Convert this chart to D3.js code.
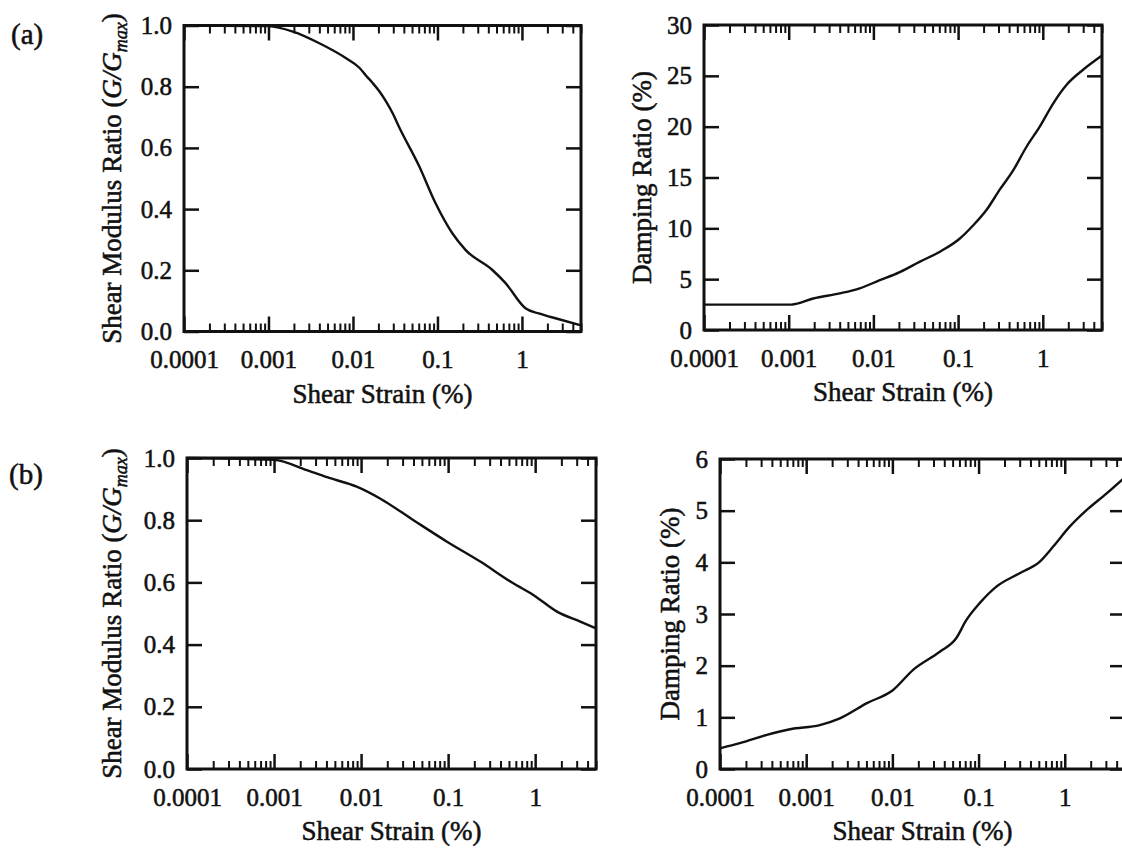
<!DOCTYPE html>
<html>
<head>
<meta charset="utf-8">
<script src="https://cdn.jsdelivr.net/npm/d3@7"></script>
<style>
  body { margin: 0; background: #fff; }
  svg text { font-family: "Liberation Serif", "Times New Roman", serif; fill: #111; stroke: #111; stroke-width: 0.55px; }
  .tick text { font-size: 25px; }
  .axis-title { font-size: 27px; }
  .panel-tag { font-size: 29px; }
</style>
</head>
<body>
<div id="chart"></div>
<script>
// (a) shear modulus ratio
const strainGa = [0.0001, 0.001, 0.00195, 0.004, 0.0083, 0.0119, 0.0143, 0.0171, 0.0205, 0.0246, 0.0295, 0.035, 0.061, 0.095, 0.15, 0.216, 0.447, 0.64, 1.1, 1.58, 2.75, 5];
const ratioGa  = [1.0, 0.998, 0.98, 0.942, 0.893, 0.862, 0.836, 0.812, 0.785, 0.752, 0.713, 0.669, 0.539, 0.419, 0.321, 0.266, 0.201, 0.158, 0.076, 0.059, 0.04, 0.02];
// (a) damping ratio
const strainDa = [0.0001, 0.00108, 0.00195, 0.004, 0.0069, 0.0119, 0.0205, 0.035, 0.061, 0.105, 0.151, 0.216, 0.31, 0.447, 0.64, 0.92, 1.33, 1.9, 2.99, 5];
const dampDa   = [2.5, 2.5, 3.1, 3.6, 4.1, 4.9, 5.7, 6.7, 7.7, 9.0, 10.3, 11.8, 13.8, 15.7, 18.0, 20.0, 22.3, 24.1, 25.6, 27.0];
// (b) shear modulus ratio
const strainGb = [0.0001, 0.001, 0.00238, 0.0044, 0.0089, 0.0165, 0.04, 0.097, 0.234, 0.56, 0.96, 1.78, 3.3, 5];
const ratioGb  = [1.0, 0.994, 0.961, 0.935, 0.908, 0.870, 0.80, 0.731, 0.667, 0.597, 0.559, 0.506, 0.474, 0.452];
// (b) damping ratio
const strainDb = [0.0001, 0.00017, 0.00035, 0.00065, 0.00144, 0.00246, 0.005, 0.0102, 0.0174, 0.0355, 0.055, 0.072, 0.103, 0.161, 0.30, 0.51, 0.73, 1.14, 1.79, 3.04, 5];
const dampDb   = [0.40, 0.50, 0.66, 0.77, 0.85, 0.98, 1.27, 1.53, 1.92, 2.27, 2.53, 2.88, 3.21, 3.53, 3.79, 4.01, 4.30, 4.69, 5.01, 5.33, 5.65];

// axes
const xDomain = [0.0001, 5];
const xMajor = [0.0001, 0.001, 0.01, 0.1, 1];
const xMajorLabels = ["0.0001", "0.001", "0.01", "0.1", "1"];
const gTicks = [0, 0.2, 0.4, 0.6, 0.8, 1.0];
const dTicksA = [0, 5, 10, 15, 20, 25, 30];
const dTicksB = [0, 1, 2, 3, 4, 5, 6];
const xTitle = "Shear Strain (%)";
const dampTitle = "Damping Ratio (%)";

const width = 1122, height = 848;

const svg = d3.select("#chart").append("svg")
    .attr("width", width)
    .attr("height", height);

// minor ticks 2..9 in each decade up to 5
const xMinor = [];
for (let d = -4; d <= 0; d++) {
  for (let m = 2; m <= 9; m++) {
    const v = m * Math.pow(10, d);
    if (v <= 5 + 1e-9) xMinor.push(+v.toPrecision(3));
  }
}

function drawPanel(cfg) {
  const x = d3.scaleLog().domain(xDomain).range([cfg.left, cfg.right]);
  const y = d3.scaleLinear().domain(cfg.yDomain).range([cfg.bottom, cfg.top]);
  const g = svg.append("g");

  // minor x ticks (bottom + top)
  g.append("g")
      .attr("transform", `translate(0,${cfg.bottom})`)
      .call(d3.axisBottom(x).tickValues(xMinor).tickSize(-8).tickFormat(""))
      .call(a => a.select(".domain").remove())
      .selectAll("line").attr("stroke-width", 2);
  g.append("g")
      .attr("transform", `translate(0,${cfg.top})`)
      .call(d3.axisTop(x).tickValues(xMinor).tickSize(-8).tickFormat(""))
      .call(a => a.select(".domain").remove())
      .selectAll("line").attr("stroke-width", 2);

  // major x ticks
  const xb = g.append("g")
      .attr("transform", `translate(0,${cfg.bottom})`)
      .call(d3.axisBottom(x).tickValues(xMajor).tickSize(-15).tickPadding(19)
        .tickFormat((d, i) => xMajorLabels[i]));
  xb.select(".domain").remove();
  xb.selectAll("line").attr("stroke-width", 2.5);
  const xt = g.append("g")
      .attr("transform", `translate(0,${cfg.top})`)
      .call(d3.axisTop(x).tickValues(xMajor).tickSize(-15).tickFormat(""));
  xt.select(".domain").remove();
  xt.selectAll("line").attr("stroke-width", 2.5);

  // y ticks
  const yl = g.append("g")
      .attr("transform", `translate(${cfg.left},0)`)
      .call(d3.axisLeft(y).tickValues(cfg.yTicks).tickSize(-15).tickPadding(12)
        .tickFormat(cfg.yFormat));
  yl.select(".domain").remove();
  yl.selectAll("line").attr("stroke-width", 2.5);
  const yr = g.append("g")
      .attr("transform", `translate(${cfg.right},0)`)
      .call(d3.axisRight(y).tickValues(cfg.yTicks).tickSize(-15).tickFormat(""));
  yr.select(".domain").remove();
  yr.selectAll("line").attr("stroke-width", 2.5);
  g.selectAll("g").attr("font-size", null).attr("font-family", null);
  g.selectAll(".tick line").attr("stroke", "#111");

  // frame
  g.append("rect")
      .attr("x", cfg.left).attr("y", cfg.top)
      .attr("width", cfg.right - cfg.left).attr("height", cfg.bottom - cfg.top)
      .attr("fill", "none").attr("stroke", "#111").attr("stroke-width", 3);

  // curve
  const pts = cfg.xs.map((v, i) => [v, cfg.ys[i]]);
  g.append("path")
      .datum(pts)
      .attr("fill", "none")
      .attr("stroke", "#111")
      .attr("stroke-width", 2.4)
      .attr("stroke-linejoin", "round")
      .attr("d", d3.line().x(d => x(d[0])).y(d => y(d[1])).curve(d3.curveMonotoneX));

  // x title
  g.append("text")
      .attr("class", "axis-title")
      .attr("x", (cfg.left + cfg.right) / 2)
      .attr("y", cfg.bottom + 71)
      .attr("text-anchor", "middle")
      .text(xTitle);

  // y title
  const yt = g.append("text")
      .attr("class", "axis-title")
      .attr("text-anchor", "middle")
      .attr("transform", `translate(${cfg.yTitleX},${(cfg.top + cfg.bottom) / 2}) rotate(-90)`);
  if (cfg.modulus) {
    yt.append("tspan").text("Shear Modulus Ratio (");
    yt.append("tspan").attr("font-style", "italic").text("G/G");
    yt.append("tspan").attr("font-style", "italic").attr("font-size", "18px").attr("dy", 6).text("max");
    yt.append("tspan").attr("dy", -6).text(")");
  } else {
    yt.text(dampTitle);
  }
}

const fmt1 = d3.format(".1f");
const fmt0 = d3.format("d");

drawPanel({left: 184, right: 581, top: 25.5, bottom: 331.5, yDomain: [0, 1], yTicks: gTicks,
  yFormat: fmt1, xs: strainGa, ys: ratioGa, yTitleX: 121, modulus: true});
drawPanel({left: 704, right: 1102, top: 25, bottom: 330, yDomain: [0, 30], yTicks: dTicksA,
  yFormat: fmt0, xs: strainDa, ys: dampDa, yTitleX: 651, modulus: false});
drawPanel({left: 187, right: 596, top: 458, bottom: 769, yDomain: [0, 1], yTicks: gTicks,
  yFormat: fmt1, xs: strainGb, ys: ratioGb, yTitleX: 121, modulus: true});
drawPanel({left: 720, right: 1125, top: 459, bottom: 769, yDomain: [0, 6], yTicks: dTicksB,
  yFormat: fmt0, xs: strainDb, ys: dampDb, yTitleX: 679, modulus: false});

// panel tags
svg.append("text").attr("class", "panel-tag").attr("x", 11).attr("y", 44).text("(a)");
svg.append("text").attr("class", "panel-tag").attr("x", 9).attr("y", 484).text("(b)");
</script>
</body>
</html>
